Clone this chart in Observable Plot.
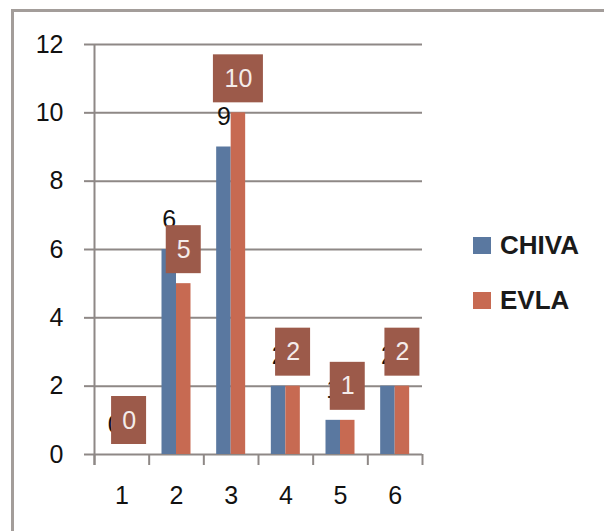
<!DOCTYPE html>
<html>
<head>
<meta charset="utf-8">
<script src="https://cdn.jsdelivr.net/npm/d3@7"></script>
<script src="https://cdn.jsdelivr.net/npm/@observablehq/plot@0.6"></script>
<style>
  html, body { margin: 0; padding: 0; background: #fff; }
  #wrap { position: relative; width: 604px; height: 531px; overflow: hidden; font-family: "Liberation Sans", Arial, sans-serif; }
  #frame { position: absolute; left: 11px; top: 9px; right: -10px; bottom: -10px; border-left: 3px solid #a39d9a; border-top: 3px solid #a39d9a; pointer-events: none; }
  #legend { position: absolute; left: 473px; top: 231px; }
  .item { display: flex; align-items: center; height: 28px; margin-bottom: 27px; font-weight: bold; font-size: 26px; color: #1a1a1a; }
  .sw { width: 18px; height: 17px; margin-right: 9px; }
  #chart { position: absolute; left: 0; top: 0; }
</style>
</head>
<body>
<div id="wrap">
  <div id="chart"></div>
  <div id="frame"></div>
  <div id="legend"></div>
</div>
<script>
// Counts per group for the two treatments
const categories = [1, 2, 3, 4, 5, 6];
const chiva = [0, 6, 9, 2, 1, 2];
const evla = [0, 5, 10, 2, 1, 2];
const yTicks = [0, 2, 4, 6, 8, 10, 12];
const seriesNames = ["CHIVA", "EVLA"];
const seriesColors = ["#5a78a0", "#c76a52"];

const rows = categories.map((c, i) => ({cat: c, chiva: chiva[i], evla: evla[i]}));
const bounds = categories.map(c => c - 0.5).concat([categories[categories.length - 1] + 0.5]);

const gridColor = "#8e8886";
const boxColor = "#9c5a4a";
const font = "Liberation Sans, Arial, sans-serif";
const fs = 25;
const barW = 14.5;       // px width of each bar
const half = barW / 2;   // offset of a bar centre from the category centre

const innerW = 422 - 94;
const step = innerW / categories.length;
const outer = step / 2 - barW;

const chart = Plot.plot({
  width: 604,
  height: 531,
  marginLeft: 94,
  marginRight: 182,
  marginTop: 44,
  marginBottom: 77,
  style: {fontFamily: font, background: "transparent"},
  x: {domain: [bounds[0], bounds[bounds.length - 1]]},
  y: {domain: [0, 12]},
  marks: [
    Plot.gridY({ticks: yTicks, stroke: gridColor, strokeOpacity: 1, strokeWidth: 2}),
    // vertical axis line, continuing into the first category tick
    Plot.ruleX([bounds[0]], {y1: 12, y2: 0, insetBottom: -11, stroke: gridColor, strokeWidth: 2}),
    // category boundary ticks below the baseline
    Plot.ruleX(bounds, {y1: 0, y2: 0, insetBottom: -11, stroke: gridColor, strokeWidth: 2}),
    Plot.axisY({ticks: yTicks, tickSize: 10, tickPadding: 21, stroke: gridColor, strokeWidth: 2, fontSize: fs, fill: "#111", label: null}),
    Plot.axisX({ticks: categories, tickSize: 0, tickPadding: 32, fontSize: fs, fill: "#111", label: null, tickFormat: d => String(d)}),
    Plot.rect(rows, {x1: d => d.cat - 0.5, x2: d => d.cat + 0.5, y1: 0, y2: "chiva", fill: seriesColors[0], insetLeft: outer, insetRight: step / 2}),
    Plot.rect(rows, {x1: d => d.cat - 0.5, x2: d => d.cat + 0.5, y1: 0, y2: "evla", fill: seriesColors[1], insetLeft: step / 2, insetRight: outer}),
    // CHIVA value labels
    Plot.text(rows, {x: "cat", y: "chiva", text: d => String(d.chiva), dx: -half, dy: -30, fontSize: fs, fill: "#111"}),
    // EVLA value labels in filled boxes
    Plot.rect(rows.filter(d => String(d.evla).length === 1), {x1: "cat", x2: "cat", y1: "evla", y2: "evla", dx: half, insetLeft: -17.5, insetRight: -17.5, insetTop: -58, insetBottom: 10, fill: boxColor}),
    Plot.rect(rows.filter(d => String(d.evla).length > 1), {x1: "cat", x2: "cat", y1: "evla", y2: "evla", dx: half, insetLeft: -25, insetRight: -25, insetTop: -58, insetBottom: 10, fill: boxColor}),
    Plot.text(rows, {x: "cat", y: "evla", text: d => String(d.evla), dx: half, dy: -34, fontSize: fs, fill: "#f4ecea"})
  ]
});
document.getElementById("chart").appendChild(chart);

const legend = document.getElementById("legend");
seriesNames.forEach((name, i) => {
  const item = document.createElement("div");
  item.className = "item";
  const sw = document.createElement("div");
  sw.className = "sw";
  sw.style.background = seriesColors[i];
  const label = document.createElement("span");
  label.textContent = name;
  item.appendChild(sw);
  item.appendChild(label);
  legend.appendChild(item);
});
</script>
</body>
</html>
